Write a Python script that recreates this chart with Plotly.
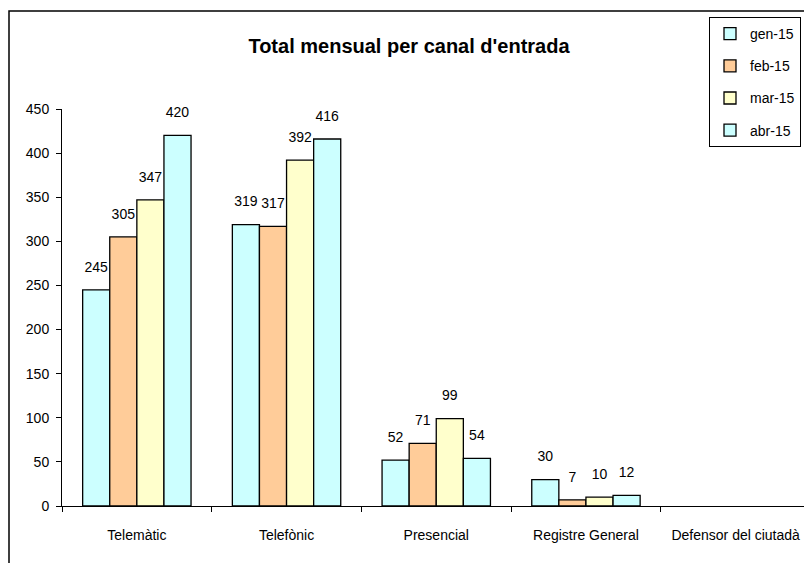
import plotly.graph_objects as go

categories = ["Telemàtic", "Telefònic", "Presencial", "Registre General", "Defensor del ciutadà"]
series_names = ["gen-15", "feb-15", "mar-15", "abr-15"]
gen_15 = [245, 319, 52, 30, None]
feb_15 = [305, 317, 71, 7, None]
mar_15 = [347, 392, 99, 10, None]
abr_15 = [420, 416, 54, 12, None]
series_values = [gen_15, feb_15, mar_15, abr_15]
colors = ["#CCFFFF", "#FFCC99", "#FFFFCC", "#CCFFFF"]

FONT = "Liberation Sans, Arial, sans-serif"
W, H = 804, 563
ML, MR, MT, MB = 62, 0, 109, 57
BARGAP = 0.276

fig = go.Figure()
for name, vals, col in zip(series_names, series_values, colors):
    fig.add_trace(go.Bar(
        x=categories, y=vals, name=name, legendgroup=name,
        marker=dict(color=col, line=dict(color="black", width=1.3)),
    ))
for name, vals in zip(series_names, series_values):
    fig.add_trace(go.Scatter(
        x=categories, y=vals, mode="markers+text", showlegend=False,
        text=[("" if v is None else str(v)) for v in vals],
        textposition="top center",
        textfont=dict(family=FONT, size=14, color="black"),
        marker=dict(size=22, opacity=0),
        hoverinfo="skip", cliponaxis=False,
    ))

plot_w = W - ML - MR
plot_h = H - MT - MB
cat_px = 149.7
x_hi = -0.5 + plot_w / cat_px

def px(x):
    return (x - ML) / plot_w

def py(y):
    return (H - MB - y) / plot_h

fig.update_layout(
    width=W, height=H,
    margin=dict(l=ML, r=MR, t=MT, b=MB, pad=0),
    paper_bgcolor="white", plot_bgcolor="white",
    barmode="group", bargap=BARGAP, bargroupgap=0,
    scattermode="group", scattergap=BARGAP,
    font=dict(family=FONT, size=14, color="black"),
    title=dict(text="<b>Total mensual per canal d'entrada</b>",
               font=dict(family=FONT, size=20, color="black"),
               x=409 / W, xref="container", xanchor="center",
               y=1 - 46 / H, yref="container", yanchor="middle"),
    legend=dict(x=px(801), y=py(17), xanchor="right", yanchor="top",
                bordercolor="black", borderwidth=1, bgcolor="white",
                font=dict(family=FONT, size=14, color="black"),
                tracegroupgap=11, traceorder="grouped",
                itemwidth=30),
    xaxis=dict(range=[-0.5, x_hi], showline=True, linecolor="black", linewidth=1,
               ticks="outside", ticklen=5, tickcolor="black", tickson="boundaries",
               showgrid=False, zeroline=False, ticklabelstandoff=16,
               tickfont=dict(family=FONT, size=14, color="black")),
    yaxis=dict(range=[0, 450], dtick=50, showline=True, linecolor="black", linewidth=1,
               ticks="outside", ticklen=5, tickcolor="black",
               showgrid=False, zeroline=False, ticklabelstandoff=4,
               tickfont=dict(family=FONT, size=14, color="black")),
    shapes=[dict(type="rect", xref="paper", yref="paper",
                 x0=px(9), x1=px(812), y0=py(575), y1=py(11),
                 line=dict(color="black", width=1.5), layer="below")],
)

fig.write_html("out.html",
               config={"displayModeBar": False},
               post_script="document.body.style.margin='0';document.body.style.overflow='hidden';")
